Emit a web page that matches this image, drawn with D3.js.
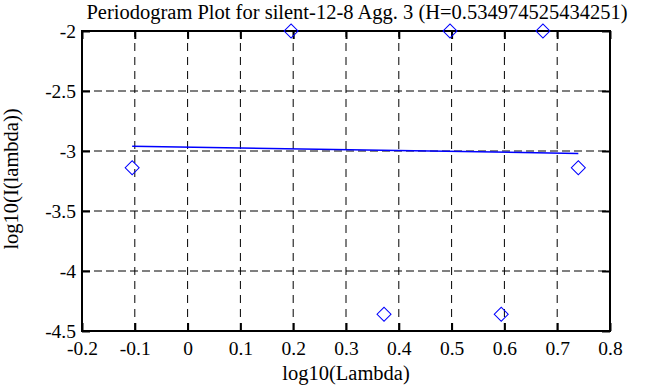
<!DOCTYPE html>
<html>
<head>
<meta charset="utf-8">
<script src="https://cdn.jsdelivr.net/npm/d3@7"></script>
<style>
  body { margin: 0; background: #fff; }
  svg text { font-family: "Liberation Serif", "Times New Roman", serif; fill: #000; }
</style>
</head>
<body>
<div id="chart"></div>
<script>
// chart size
var width = 658, height = 387;
var margin = {top: 31, right: 48, bottom: 56, left: 82};

// periodogram points (log10 lambda, log10 I(lambda))
var logLambda = [-0.105, 0.196, 0.372, 0.497, 0.594, 0.673, 0.740];
var logI = [-3.14, -2.0, -4.36, -2.0, -4.36, -2.0, -3.14];

// fitted line end points
var fitX = [-0.105, 0.740];
var fitY = [-2.961, -3.020];

var xTicks = [-0.2, -0.1, 0, 0.1, 0.2, 0.3, 0.4, 0.5, 0.6, 0.7, 0.8];
var yTicks = [-2, -2.5, -3, -3.5, -4, -4.5];

var title = "Periodogram Plot for silent-12-8 Agg. 3 (H=0.534974525434251)";

var svg = d3.select("#chart").append("svg")
    .attr("width", width)
    .attr("height", height);

var x = d3.scaleLinear().domain([-0.2, 0.8]).range([margin.left, width - margin.right]);
var y = d3.scaleLinear().domain([-4.5, -2]).range([height - margin.bottom, margin.top]);

//grid lines (dashed)
var grid = svg.append("g");
grid.selectAll("line.vx")
    .data(xTicks.slice(1, -1))
    .enter().append("line")
    .attr("x1", function(d) { return x(d); })
    .attr("x2", function(d) { return x(d); })
    .attr("y1", y.range()[0])
    .attr("y2", y.range()[1])
    .attr("stroke", "#000")
    .attr("stroke-width", 1)
    .attr("stroke-dasharray", "8,6");
grid.selectAll("line.hy")
    .data(yTicks.slice(1, -1))
    .enter().append("line")
    .attr("y1", function(d) { return y(d); })
    .attr("y2", function(d) { return y(d); })
    .attr("x1", x.range()[0])
    .attr("x2", x.range()[1])
    .attr("stroke", "#000")
    .attr("stroke-width", 1)
    .attr("stroke-dasharray", "8,4");

//axes
var xAxis = d3.axisBottom(x).tickValues(xTicks).tickSize(-8).tickPadding(10)
    .tickFormat(function(d) { return String(+d.toFixed(1)); });
var yAxis = d3.axisLeft(y).tickValues(yTicks).tickSize(-8).tickPadding(6)
    .tickFormat(function(d) { return String(d); });

var gx = svg.append("g")
    .attr("transform", "translate(0," + y.range()[0] + ")")
    .call(xAxis);
var gy = svg.append("g")
    .attr("transform", "translate(" + x.range()[0] + ",0)")
    .call(yAxis);
var gxTop = svg.append("g")
    .attr("transform", "translate(0," + y.range()[1] + ")")
    .call(d3.axisTop(x).tickValues(xTicks).tickSize(-8).tickFormat(""));
var gyRight = svg.append("g")
    .attr("transform", "translate(" + x.range()[1] + ",0)")
    .call(d3.axisRight(y).tickValues(yTicks).tickSize(-8).tickFormat(""));

[gx, gy, gxTop, gyRight].forEach(function(g) {
    g.attr("font-family", "Liberation Serif, serif").attr("font-size", 19.5);
    g.select(".domain").remove();
    g.selectAll(".tick line").attr("stroke", "#000").attr("stroke-width", 2);
});
gx.selectAll(".tick text").attr("dy", null).attr("y", 24);

//frame
svg.append("rect")
    .attr("x", x.range()[0])
    .attr("y", y.range()[1])
    .attr("width", x.range()[1] - x.range()[0])
    .attr("height", y.range()[0] - y.range()[1])
    .attr("fill", "none")
    .attr("stroke", "#000")
    .attr("stroke-width", 2);

//fitted line
var line = d3.line()
    .x(function(d) { return x(d[0]); })
    .y(function(d) { return y(d[1]); });
svg.append("path")
    .datum(d3.zip(fitX, fitY))
    .attr("d", line)
    .attr("fill", "none")
    .attr("stroke", "#0000ff")
    .attr("stroke-width", 1.5);

//diamond markers
var pts = d3.zip(logLambda, logI);
svg.append("g")
    .selectAll("path")
    .data(pts)
    .enter().append("path")
    .attr("d", d3.symbol().type(d3.symbolSquare).size(98))
    .attr("transform", function(d) { return "translate(" + x(d[0]) + "," + y(d[1]) + ") rotate(45)"; })
    .attr("fill", "none")
    .attr("stroke", "#0000ff")
    .attr("stroke-width", 1);

//title and labels
svg.append("text")
    .attr("x", 357)
    .attr("y", 19)
    .attr("text-anchor", "middle")
    .style("font-size", "20.5px")
    .text(title);

svg.append("text")
    .attr("x", (x.range()[0] + x.range()[1]) / 2)
    .attr("y", 380)
    .attr("text-anchor", "middle")
    .style("font-size", "20.5px")
    .text("log10(Lambda)");

svg.append("text")
    .attr("transform", "translate(18," + ((y.range()[0] + y.range()[1]) / 2 - 2) + ") rotate(-90)")
    .attr("text-anchor", "middle")
    .style("font-size", "20.5px")
    .text("log10(I(lambda))");
</script>
</body>
</html>
